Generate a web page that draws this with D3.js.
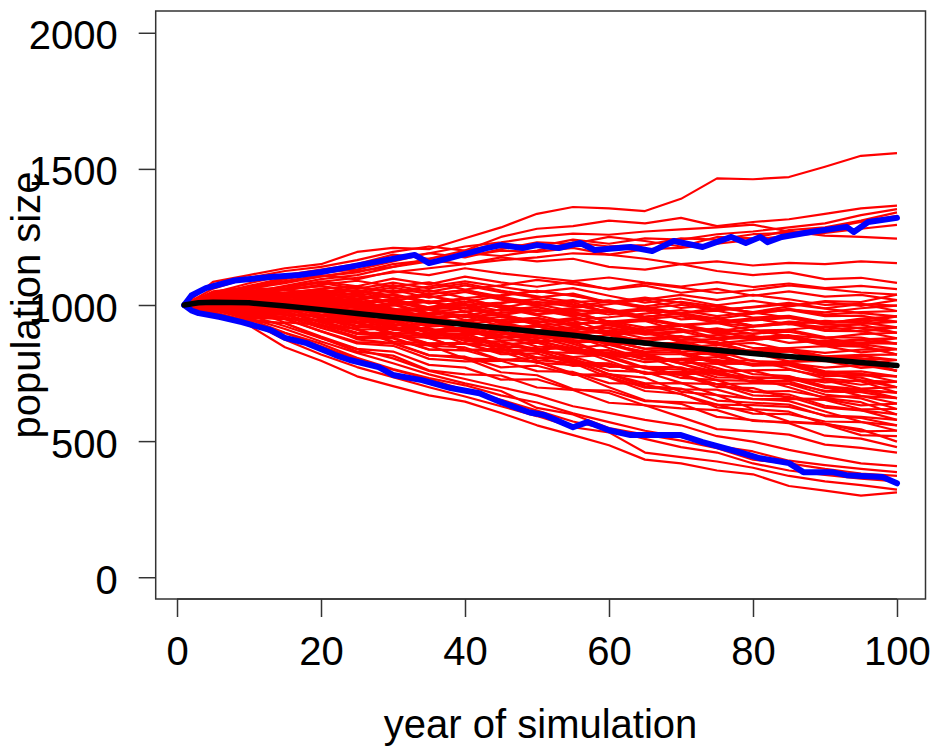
<!DOCTYPE html>
<html>
<head>
<meta charset="utf-8">
<script src="https://cdn.jsdelivr.net/npm/d3@7"></script>
<style>
  body { margin: 0; background: #fff; }
  svg text { font-family: "Liberation Sans", Arial, Helvetica, sans-serif; font-size: 40px; fill: #000; }
</style>
</head>
<body>
<svg id="chart" width="932" height="748"></svg>
<script>
// ---- simulated population trajectories ----------------------------------
const startYear = 1;
const startSize = 1000;
const sampleYears = [5, 10, 15, 20, 25, 30, 35, 40, 45, 50, 55, 60, 65, 70, 75, 80, 85, 90, 95, 100];

// population size of each run at the sample years
const runs = [
  [1034,1066,1088,1109,1094,1124,1110,1135,1116,1102,1088,1101,1082,1068,1084,1066,1079,1062,1070,1058],
  [1038,1064,1055,1075,1089,1068,1083,1057,1072,1092,1077,1059,1079,1064,1044,1055,1072,1059,1046,1038],
  [1018,1009,1025,1045,1064,1048,1068,1087,1067,1047,1062,1034,1009,1024,999,1015,997,1014,1011,1038],
  [1047,1042,1067,1086,1069,1097,1076,1104,1083,1067,1086,1057,1071,1045,1059,1034,1050,1031,1037,1018],
  [1027,1022,1042,1056,1034,1012,991,1004,978,992,966,977,956,970,989,974,995,1011,997,1018],
  [1041,1035,1014,1032,1004,1016,1034,1011,1034,1052,1035,1010,988,1001,979,993,1008,988,1003,998],
  [1001,995,1014,987,964,976,949,961,984,967,985,965,983,966,949,968,983,973,988,998],
  [1010,1038,1056,1038,1054,1035,1012,988,1000,977,989,1003,1020,1037,1019,1037,1021,1000,1004,978],
  [1010,1043,1021,998,1009,980,992,1013,990,1012,994,1013,995,1012,994,972,986,965,974,978],
  [1004,986,993,964,939,949,920,930,906,927,908,926,907,923,934,921,939,932,950,958],
  [1034,1056,1043,1059,1069,1044,1055,1025,1036,1052,1033,1011,1027,1008,984,991,1004,987,970,958],
  [1014,1001,1013,1029,1044,1024,1040,1055,1031,1007,1018,986,957,968,939,951,929,942,935,958],
  [1043,1034,1055,1070,1049,1073,1048,1072,1047,1027,1042,1009,1019,989,999,970,982,959,961,938],
  [1038,1029,1005,1020,989,998,1013,987,1007,1022,1002,974,949,959,934,945,957,934,946,938],
  [998,989,1005,975,949,958,928,937,957,937,952,929,944,924,904,920,932,919,931,938],
  [1027,1052,1067,1081,1059,1082,1061,1079,1053,1032,1011,1017,991,970,979,954,960,936,937,918],
  [1022,1012,1027,1036,1009,982,956,964,933,942,911,917,891,900,914,894,910,921,902,918],
  [1007,1037,1012,986,994,962,971,989,963,982,961,977,956,970,949,924,935,911,917,918],
  [1006,1030,1044,1022,1034,1011,984,956,964,937,945,955,968,981,959,973,953,928,928,898],
  [1001,980,984,952,924,931,899,906,879,897,875,890,868,881,889,873,888,878,893,898],
  [1031,1050,1034,1047,1054,1026,1034,1001,1009,1022,1000,975,988,966,939,943,953,933,913,898],
  [995,983,996,963,934,940,907,913,930,907,919,893,905,882,859,872,881,865,874,878],
  [1010,993,1001,1013,1024,1000,1012,1023,995,967,974,938,905,912,879,887,861,870,859,878],
  [1040,1028,1046,1058,1034,1055,1027,1048,1020,997,1009,973,980,947,954,922,931,905,904,878],
  [1004,1031,1003,974,979,944,950,965,936,952,928,941,917,928,904,876,884,857,860,858],
  [1034,1021,993,1004,969,974,985,955,971,982,958,926,897,903,874,881,889,862,870,858],
  [1024,1046,1058,1069,1044,1064,1040,1055,1026,1002,978,981,952,928,934,906,909,882,880,858],
  [1018,1004,1015,1020,989,958,928,932,897,902,867,869,839,844,854,830,842,849,826,838],
  [1028,1044,1025,1035,1039,1008,1013,977,982,992,967,939,949,924,894,895,902,879,856,838],
  [998,974,975,940,909,913,878,882,852,867,842,854,829,839,844,825,837,824,836,838],
  [1037,1022,1037,1046,1019,1037,1006,1024,993,967,976,937,941,905,909,874,880,851,847,818],
  [1002,1022,1032,1006,1014,987,956,924,928,897,901,907,916,925,899,909,885,856,852,818],
  [992,977,987,951,919,922,886,889,903,877,886,857,866,840,814,824,830,811,817,818],
  [1006,985,989,997,1004,976,984,991,959,927,930,890,853,856,819,823,793,798,783,798],
  [1001,1025,994,962,964,926,929,941,909,922,895,905,878,886,859,828,833,803,803,798],
  [1031,1015,984,992,954,956,964,931,944,952,925,890,858,861,829,833,838,808,813,798],
  [1020,1038,1046,1053,1024,1040,1012,1023,990,962,934,933,900,872,874,842,841,810,804,778],
  [995,968,966,928,894,895,857,858,825,837,809,818,790,797,799,777,786,770,779,778],
  [1015,998,1006,1008,974,940,907,908,870,872,834,833,800,802,809,782,791,795,769,778],
  [1024,1036,1013,1019,1019,984,985,945,946,952,923,891,897,868,834,831,834,807,780,758],
  [999,1016,1023,994,999,969,935,900,901,867,868,871,877,883,854,861,834,802,795,758],
  [1034,1016,1028,1034,1004,1019,985,1000,966,937,943,901,902,863,864,826,829,797,790,758],
  [988,969,975,935,899,898,858,857,867,837,842,809,814,784,754,760,762,739,741,738],
  [1028,1009,975,980,939,938,943,907,917,922,892,854,819,819,784,785,787,754,756,738],
  [998,1019,985,950,949,908,908,917,882,892,862,869,839,844,814,780,782,749,746,738],
  [992,962,957,916,879,877,836,834,798,807,776,782,751,755,754,729,735,716,722,718],
  [1002,977,977,981,984,952,956,959,923,887,886,842,801,800,759,759,725,726,707,718],
  [1017,1032,1037,1041,1009,1022,991,999,963,932,901,897,861,830,829,794,790,756,747,718],
  [1011,990,994,992,954,916,879,876,834,832,790,785,748,746,749,718,723,723,693,698],
  [1031,1010,1019,1022,989,1001,964,976,939,907,910,865,863,821,819,778,778,743,733,698],
  [1021,1030,1004,1007,1004,966,964,921,919,922,890,855,858,826,789,783,783,753,723,698],
  [995,1008,1011,978,979,945,907,868,865,827,824,823,825,827,794,797,766,730,719,678],
  [995,1013,976,938,934,890,887,893,855,862,829,833,800,802,769,732,731,695,689,678],
  [985,963,966,923,884,880,837,833,840,807,809,773,775,742,709,712,711,685,684,678],
  [1024,1001,963,964,919,914,915,875,881,882,848,806,767,763,724,721,719,682,680,658],
  [1014,1026,1028,1029,994,1004,970,975,936,902,868,861,822,788,784,746,739,702,690,658],
  [989,956,948,904,864,859,815,810,771,777,743,746,712,713,709,681,684,662,665,658],
  [998,969,965,965,964,928,928,927,887,847,842,794,749,744,699,695,657,654,631,638],
  [1018,1024,995,995,989,948,943,897,892,892,857,819,819,784,744,735,732,699,666,638],
  [1027,1002,1007,1006,969,977,936,944,903,867,866,817,811,765,759,714,710,671,657,618],
  [1007,982,982,976,934,892,851,844,798,792,746,737,696,690,689,654,655,651,617,618],
  [991,1005,964,922,914,866,859,861,819,822,785,785,748,746,709,668,663,623,613,598],
  [991,1000,999,962,959,921,879,836,829,787,780,775,773,771,734,733,698,658,643,598],
  [980,953,951,903,859,850,802,793,795,757,754,713,710,672,634,632,626,595,589,578],
  [1010,1018,1016,1013,974,980,942,943,900,862,824,813,770,732,724,682,671,630,614,578],
  [984,946,933,884,839,829,780,770,726,727,688,686,647,643,634,601,599,572,570,558],
  [1019,991,948,944,894,884,880,835,836,832,793,746,702,693,649,641,634,592,585,558],
  [1013,1014,980,975,964,918,908,857,847,842,802,759,754,714,669,655,647,609,571,538],
  [993,959,950,945,939,898,893,887,842,797,787,734,684,674,624,615,572,564,536,538],
  [1002,972,967,956,909,862,816,804,753,742,691,677,631,620,614,574,570,561,522,518],
  [1021,990,989,982,939,941,894,896,849,807,800,745,733,681,669,618,608,563,543,498],
  [1015,983,936,928,874,860,852,803,800,792,749,698,650,637,589,577,566,520,509,478],
  [974,941,933,879,829,814,760,745,741,697,688,641,632,588,544,536,524,487,475,458],
  // runs that finish high
  [1085,1110,1135,1150,1195,1210,1205,1245,1285,1335,1360,1355,1345,1390,1465,1462,1470,1508,1548,1558],
  [1060,1100,1125,1140,1165,1195,1215,1200,1250,1280,1290,1310,1300,1320,1290,1305,1315,1335,1355,1365],
  [1045,1080,1110,1130,1150,1185,1170,1200,1225,1215,1240,1225,1245,1240,1260,1270,1285,1300,1330,1352],
  [1050,1065,1095,1120,1130,1160,1190,1175,1205,1230,1225,1250,1235,1215,1250,1245,1275,1285,1310,1340],
  [1030,1060,1080,1105,1125,1140,1170,1190,1180,1200,1230,1215,1220,1245,1240,1260,1265,1280,1305,1328],
  [1040,1070,1100,1115,1140,1170,1190,1215,1230,1250,1262,1258,1270,1278,1285,1295,1270,1255,1250,1244],
  [1025,1050,1060,1085,1100,1120,1135,1150,1165,1175,1190,1185,1205,1210,1225,1240,1255,1265,1280,1294],
  [1020,1045,1070,1095,1110,1140,1160,1180,1200,1195,1210,1185,1170,1150,1160,1145,1155,1150,1160,1154],
  [1030,1060,1085,1105,1120,1150,1165,1150,1175,1160,1170,1140,1130,1150,1125,1110,1120,1095,1100,1081],
  // runs that finish low
  [975,925,845,795,738,702,668,645,603,558,522,485,432,418,392,378,335,318,300,312],
  [962,938,872,818,772,735,698,664,628,592,551,532,458,441,425,402,372,352,338,322],
  [988,948,898,858,806,765,732,705,668,642,602,570,538,515,482,462,428,412,398,386],
  [992,952,912,866,824,786,745,712,684,622,598,548,524,502,474,432,418,398,381,372],
  [972,938,897,848,802,762,728,688,652,612,572,543,508,478,458,418,392,376,362,352],
  [996,962,922,878,838,804,758,728,698,668,628,604,578,558,518,498,468,442,418,408]
];

// mean population size across runs
const meanYears = [1, 3, 5, 10, 15, 20, 25, 30, 35, 40, 45, 50, 55, 60, 65, 70, 75, 80, 85, 90, 95, 100];
const meanSizes = [1000, 1008, 1010, 1008, 996, 983, 969, 955, 942, 928, 915, 902, 889, 873, 860, 847, 834, 822, 811, 800, 789, 778];

// upper and lower quantile envelopes
const upperYears = [1, 2, 4, 8, 13, 17, 20, 24, 29, 33, 35, 38, 43, 45, 48, 50, 53, 56, 58, 63, 66, 69, 73, 77, 79, 81, 82, 84, 88, 93, 94, 96, 100];
const upperSizes = [1000, 1035, 1062, 1090, 1103, 1110, 1121, 1140, 1165, 1184, 1154, 1173, 1209, 1220, 1209, 1220, 1209, 1228, 1202, 1213, 1198, 1235, 1213, 1250, 1228, 1250, 1231, 1250, 1268, 1287, 1268, 1305, 1320];
const lowerYears = [1, 2, 3, 6, 9, 13, 15, 18, 22, 24, 28, 30, 34, 38, 42, 45, 49, 51, 55, 57, 60, 63, 70, 73, 78, 81, 85, 87, 91, 93, 98, 100];
const lowerSizes = [1000, 980, 970, 956, 937, 908, 879, 860, 816, 798, 772, 743, 724, 695, 676, 643, 605, 596, 551, 570, 540, 522, 522, 496, 460, 437, 419, 386, 386, 375, 368, 345];

// axis ticks
const xTicks = [0, 20, 40, 60, 80, 100];
const yTicks = [0, 500, 1000, 1500, 2000];

// ---- drawing --------------------------------------------------------------
const svg = d3.select("#chart");
const box = { left: 155.7, right: 925.5, top: 11, bottom: 599 };

const x = d3.scaleLinear().domain([-2.96, 103.96]).range([box.left, box.right]);
const y = d3.scaleLinear().domain([-80, 2080]).range([box.bottom, box.top]);

const line = d3.line().x(d => x(d[0])).y(d => y(d[1]));
const zip = (xs, ys) => xs.map((v, i) => [v, ys[i]]);

const plot = svg.append("g");

// individual runs
plot.selectAll("path.run")
  .data(runs.map(r => [[startYear, startSize]].concat(zip(sampleYears, r))))
  .join("path")
  .attr("class", "run")
  .attr("d", line)
  .attr("fill", "none")
  .attr("stroke", "#ff0000")
  .attr("stroke-width", 2.2)
  .attr("stroke-linejoin", "round");

// quantile envelopes
plot.selectAll("path.quant")
  .data([zip(upperYears, upperSizes), zip(lowerYears, lowerSizes)])
  .join("path")
  .attr("class", "quant")
  .attr("d", line)
  .attr("fill", "none")
  .attr("stroke", "#0000ff")
  .attr("stroke-width", 6)
  .attr("stroke-linejoin", "round")
  .attr("stroke-linecap", "round");

// mean trajectory
plot.append("path")
  .datum(zip(meanYears, meanSizes))
  .attr("d", line)
  .attr("fill", "none")
  .attr("stroke", "#000")
  .attr("stroke-width", 5.5)
  .attr("stroke-linejoin", "round")
  .attr("stroke-linecap", "round");

// frame
svg.append("rect")
  .attr("x", box.left).attr("y", box.top)
  .attr("width", box.right - box.left).attr("height", box.bottom - box.top)
  .attr("fill", "none").attr("stroke", "#333").attr("stroke-width", 1.5);

// x axis
const gx = svg.append("g")
  .attr("transform", `translate(0,${box.bottom})`)
  .call(d3.axisBottom(x).tickValues(xTicks).tickSize(18).tickFormat(d3.format("d")));
gx.select(".domain").remove();
gx.selectAll(".tick line").attr("stroke", "#333").attr("stroke-width", 1.5);
gx.selectAll(".tick text").attr("y", 66).attr("dy", null)
  .style("font-size", "40px").style("font-family", "'Liberation Sans', Arial, sans-serif").attr("fill", "#000");
gx.append("line")
  .attr("x1", x(xTicks[0])).attr("x2", x(xTicks[xTicks.length - 1]))
  .attr("stroke", "#333").attr("stroke-width", 1.5);

// y axis
const gy = svg.append("g")
  .attr("transform", `translate(${box.left},0)`)
  .call(d3.axisLeft(y).tickValues(yTicks).tickSize(17).tickFormat(d3.format("d")));
gy.select(".domain").remove();
gy.selectAll(".tick line").attr("stroke", "#333").attr("stroke-width", 1.5);
gy.selectAll(".tick text").attr("x", -38).attr("y", 16).attr("dy", null)
  .attr("text-anchor", "end")
  .style("font-size", "40px").style("font-family", "'Liberation Sans', Arial, sans-serif").attr("fill", "#000");

// axis titles
svg.append("text")
  .attr("x", (box.left + box.right) / 2).attr("y", 738)
  .attr("text-anchor", "middle")
  .text("year of simulation");

svg.append("text")
  .attr("transform", `translate(40,${(box.top + box.bottom) / 2}) rotate(-90)`)
  .attr("text-anchor", "middle")
  .text("population size");
</script>
</body>
</html>
